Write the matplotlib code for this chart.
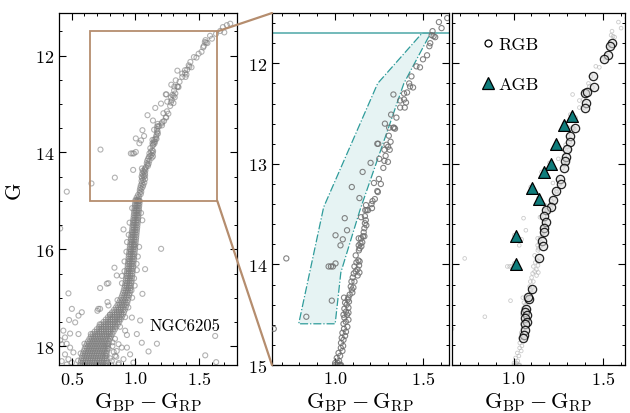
import matplotlib
matplotlib.use("Agg")
import matplotlib.pyplot as plt
from matplotlib.patches import Rectangle, Polygon, ConnectionPatch
from matplotlib.lines import Line2D
from matplotlib.ticker import MultipleLocator

plt.rcParams['font.family'] = 'serif'
plt.rcParams['font.serif'] = ['cmr10']
plt.rcParams['mathtext.fontset'] = 'cm'
plt.rcParams['axes.unicode_minus'] = False
plt.rcParams['axes.formatter.use_mathtext'] = True

# ---------------------------
# Data
# ---------------------------
# upper RGB / AGB stars (G < 15), colour BP-RP and G
upper_color = [1.588, 1.603, 1.635, 1.552, 1.547, 1.558, 1.567, 1.539, 1.534, 1.521,
               1.498, 1.461, 1.481, 1.433, 1.420, 1.425, 1.442, 1.408, 1.391, 1.331,
               1.369, 1.391, 1.402, 1.369, 1.395, 1.318, 1.348, 1.283, 1.307, 1.330,
               1.335, 1.340, 1.240, 1.245, 1.305, 1.315, 1.292, 1.301, 1.280, 1.310,
               1.287, 1.251, 1.280, 1.300, 1.202, 1.274, 1.157, 1.249, 1.221, 1.260,
               1.096, 1.240, 1.243, 1.139, 1.226, 1.213, 1.207, 1.176, 1.210, 1.180,
               1.172, 1.188, 1.148, 1.170, 1.056, 1.175, 1.170, 1.178, 1.167, 1.069,
               1.163, 1.159, 1.167, 1.135, 1.148, 1.004, 1.045, 1.032, 1.145, 1.155,
               1.135, 1.150, 1.140, 1.136, 0.726, 0.965, 0.978, 0.989, 1.004,
               1.118, 1.133, 1.140, 1.122, 1.137, 1.111, 1.128, 1.118, 1.139, 1.107,
               1.129, 1.101, 1.094, 1.111, 1.090, 1.105, 1.096, 1.099, 1.084, 1.077,
               1.073, 1.052, 1.080, 1.058, 1.067, 1.077, 1.054, 1.063, 1.077, 1.049,
               1.069, 1.054, 1.077, 1.062, 1.049, 1.071, 1.052, 1.063, 1.043, 1.058,
               1.039, 1.049, 1.035, 1.047, 1.034, 1.043, 1.021, 1.030, 1.011, 1.024,
               1.002, 1.017, 1.030, 0.983, 0.839, 0.655,
               1.720, 1.747, 1.689, 1.668, 1.700]
upper_g = [11.59, 11.65, 11.55, 11.68, 11.72, 11.73, 11.74, 11.80, 11.83, 11.92,
           11.96, 12.03, 12.04, 12.13, 12.20, 12.23, 12.24, 12.29, 12.30, 12.31,
           12.37, 12.36, 12.39, 12.44, 12.44, 12.51, 12.54, 12.60, 12.64, 12.64,
           12.64, 12.65, 12.80, 12.80, 12.72, 12.78, 12.81, 12.83, 12.86, 12.86,
           12.92, 12.95, 12.97, 12.98, 12.99, 13.04, 13.08, 13.15, 13.19, 13.20,
           13.23, 13.27, 13.28, 13.34, 13.35, 13.37, 13.40, 13.41, 13.44, 13.46,
           13.46, 13.46, 13.53, 13.52, 13.54, 13.56, 13.59, 13.61, 13.64, 13.66,
           13.68, 13.72, 13.72, 13.74, 13.74, 13.71, 13.75, 13.81, 13.79, 13.78,
           13.81, 13.82, 13.84, 13.86, 13.94, 14.02, 14.02, 14.02, 13.99,
           13.91, 13.96, 13.97, 13.98, 14.01, 14.02, 14.05, 14.07, 14.08, 14.09,
           14.11, 14.13, 14.17, 14.17, 14.22, 14.23, 14.25, 14.28, 14.30, 14.33,
           14.35, 14.33, 14.37, 14.38, 14.40, 14.43, 14.44, 14.47, 14.48, 14.50,
           14.50, 14.53, 14.55, 14.57, 14.59, 14.62, 14.64, 14.67, 14.68, 14.71,
           14.73, 14.75, 14.78, 14.81, 14.83, 14.86, 14.88, 14.91, 14.93, 14.96,
           14.98, 14.98, 15.00, 14.36, 14.52, 14.64,
           11.37, 11.34, 11.41, 11.49, 11.52]

# scattered stars below G = 15
field_color = [0.907, 1.203, 0.836, 1.077, 0.723, 0.776, 0.854, 1.056, 0.781, 0.789,
               0.702, 0.723, 0.474, 0.501, 0.579, 0.553, 0.479, 0.527, 0.434, 0.487,
               0.553, 0.447, 1.038, 0.973, 0.920, 0.934, 1.012, 1.051, 1.170, 1.104,
               1.550, 1.628, 1.636, 0.409, 0.421, 0.460, 0.487, 0.513, 0.447, 0.474,
               0.501, 0.421, 0.460, 0.868, 0.893, 0.854, 0.934, 0.959, 0.841, 0.907,
               0.815, 0.868, 0.985, 0.409, 0.461, 1.012, 0.990, 0.955, 1.045, 0.935,
               1.020, 0.915, 0.990, 0.895, 0.970, 0.788, 0.709,
               0.975, 1.055, 0.948, 1.030, 0.930, 1.010, 0.915, 0.995, 0.895, 0.975,
               0.860, 0.945, 0.800, 0.920, 0.720, 0.880, 0.650, 0.840, 0.600, 0.820,
               0.570, 0.800, 0.550, 0.810, 0.830, 0.850, 0.790, 0.820, 0.870]
field_g = [15.59, 15.99, 16.38, 16.41, 16.80, 16.71, 16.54, 16.92, 17.09, 17.16,
           17.27, 17.23, 16.91, 17.23, 17.30, 17.37, 17.46, 17.51, 17.68, 17.74,
           17.75, 17.82, 17.47, 17.41, 17.68, 17.77, 17.75, 17.93, 17.95, 18.11,
           18.19, 17.79, 18.33, 17.88, 17.96, 17.95, 18.03, 18.13, 18.17, 18.27,
           18.34, 18.31, 18.38, 17.96, 18.03, 18.10, 18.03, 18.17, 18.20, 18.27,
           18.31, 18.38, 18.34, 15.57, 14.81, 16.43, 15.91, 15.45, 15.25, 15.85,
           16.15, 16.25, 16.60, 16.55, 16.85, 16.70, 17.23,
           15.15, 15.40, 15.70, 15.95, 16.05, 16.30, 16.45, 16.75, 16.70, 17.00,
           17.05, 17.20, 17.35, 17.40, 17.55, 17.60, 17.75, 17.85, 17.95, 18.00,
           18.15, 18.25, 18.30, 18.38, 18.12, 18.22, 18.05, 17.92, 18.35]

# dense lower RGB / subgiant / turn-off band, one row per G value
band_g = [15.00, 15.05, 15.10, 15.15, 15.20, 15.25, 15.30, 15.35, 15.40, 15.45,
          15.50, 15.55, 15.60, 15.65, 15.70, 15.75, 15.80, 15.85, 15.90, 15.95,
          16.00, 16.05, 16.10, 16.15, 16.20, 16.25, 16.30, 16.35, 16.40, 16.45,
          16.50, 16.55, 16.60, 16.65, 16.70, 16.75, 16.80, 16.85, 16.90, 16.95,
          17.00, 17.05, 17.10, 17.15, 17.20, 17.25, 17.30, 17.35, 17.40, 17.45,
          17.50, 17.55, 17.60, 17.65, 17.70, 17.75, 17.80, 17.85, 17.90, 17.95,
          18.00, 18.05, 18.10, 18.15, 18.20, 18.25, 18.30, 18.35, 18.40, 18.45]
band_colors = [
    [1.002, 1.014, 1.026, 1.035], [0.998, 1.011, 1.022, 1.033],
    [0.997, 1.009, 1.020, 1.031], [0.994, 1.006, 1.018, 1.029],
    [0.992, 1.005, 1.016, 1.028], [0.990, 1.002, 1.014, 1.026],
    [0.988, 1.000, 1.012, 1.025], [0.986, 0.998, 1.010, 1.023],
    [0.983, 0.995, 1.008, 1.021], [0.981, 0.993, 1.006, 1.019],
    [0.979, 0.991, 1.004, 1.017], [0.977, 0.989, 1.002, 1.015],
    [0.975, 0.987, 1.000, 1.013], [0.972, 0.984, 0.997, 1.011],
    [0.970, 0.982, 0.995, 1.009], [0.967, 0.980, 0.993, 1.007],
    [0.965, 0.978, 0.991, 1.005], [0.962, 0.975, 0.988, 1.003],
    [0.960, 0.973, 0.986, 1.001], [0.957, 0.970, 0.984, 0.999],
    [0.955, 0.968, 0.982, 0.997], [0.953, 0.966, 0.980, 0.995],
    [0.950, 0.964, 0.978, 0.993], [0.948, 0.962, 0.976, 0.991],
    [0.946, 0.960, 0.974, 0.989], [0.944, 0.958, 0.972, 0.987],
    [0.942, 0.956, 0.970, 0.985], [0.940, 0.954, 0.968, 0.983],
    [0.938, 0.952, 0.966, 0.981], [0.935, 0.949, 0.964, 0.979],
    [0.933, 0.947, 0.962, 0.977], [0.930, 0.944, 0.960, 0.975],
    [0.928, 0.942, 0.957, 0.973], [0.925, 0.940, 0.955, 0.971],
    [0.922, 0.937, 0.953, 0.969], [0.918, 0.933, 0.950, 0.966],
    [0.914, 0.930, 0.947, 0.963], [0.909, 0.926, 0.943, 0.960],
    [0.903, 0.920, 0.938, 0.956], [0.897, 0.915, 0.934, 0.952],
    [0.890, 0.909, 0.928, 0.947], [0.881, 0.900, 0.920, 0.942],
    [0.872, 0.890, 0.908, 0.924, 0.937],
    [0.860, 0.878, 0.896, 0.914, 0.931],
    [0.848, 0.866, 0.884, 0.902, 0.925],
    [0.833, 0.851, 0.869, 0.887, 0.903, 0.918],
    [0.818, 0.836, 0.854, 0.872, 0.890, 0.911],
    [0.802, 0.820, 0.838, 0.856, 0.874, 0.890, 0.903],
    [0.785, 0.803, 0.821, 0.839, 0.857, 0.875, 0.894],
    [0.768, 0.786, 0.804, 0.822, 0.840, 0.858, 0.872, 0.884],
    [0.750, 0.768, 0.786, 0.804, 0.822, 0.840, 0.858, 0.874],
    [0.732, 0.750, 0.768, 0.786, 0.804, 0.822, 0.840, 0.863],
    [0.715, 0.733, 0.751, 0.769, 0.787, 0.805, 0.823, 0.838, 0.851],
    [0.697, 0.715, 0.733, 0.751, 0.769, 0.787, 0.805, 0.823, 0.840],
    [0.680, 0.698, 0.716, 0.734, 0.752, 0.770, 0.788, 0.806, 0.829],
    [0.665, 0.683, 0.701, 0.719, 0.737, 0.755, 0.773, 0.791, 0.805, 0.819],
    [0.650, 0.668, 0.686, 0.704, 0.722, 0.740, 0.758, 0.776, 0.794, 0.809],
    [0.639, 0.657, 0.675, 0.693, 0.711, 0.729, 0.747, 0.765, 0.783, 0.801],
    [0.628, 0.646, 0.664, 0.682, 0.700, 0.718, 0.736, 0.754, 0.772, 0.794],
    [0.619, 0.637, 0.655, 0.673, 0.691, 0.709, 0.727, 0.745, 0.763, 0.778, 0.789],
    [0.610, 0.628, 0.646, 0.664, 0.682, 0.700, 0.718, 0.736, 0.754, 0.770, 0.784],
    [0.602, 0.620, 0.638, 0.656, 0.674, 0.692, 0.710, 0.728, 0.746, 0.764, 0.780],
    [0.595, 0.613, 0.631, 0.649, 0.667, 0.685, 0.703, 0.721, 0.739, 0.757, 0.777],
    [0.589, 0.607, 0.625, 0.643, 0.661, 0.679, 0.697, 0.715, 0.733, 0.751, 0.766, 0.775],
    [0.583, 0.601, 0.619, 0.637, 0.655, 0.673, 0.691, 0.709, 0.727, 0.745, 0.762, 0.774],
    [0.578, 0.596, 0.614, 0.632, 0.650, 0.668, 0.686, 0.704, 0.722, 0.740, 0.758, 0.774],
    [0.573, 0.591, 0.609, 0.627, 0.645, 0.663, 0.681, 0.699, 0.717, 0.735, 0.753, 0.774],
    [0.569, 0.587, 0.605, 0.623, 0.641, 0.659, 0.677, 0.695, 0.713, 0.731, 0.749, 0.764, 0.775],
    [0.565, 0.583, 0.601, 0.619, 0.637, 0.655, 0.673, 0.691, 0.709, 0.727, 0.745, 0.762, 0.777],
    [0.565, 0.583, 0.601, 0.619, 0.637, 0.655, 0.673, 0.691, 0.709, 0.727, 0.745, 0.762, 0.777],
]

# AGB selection region (vertices)
poly_color = [1.541, 1.493, 1.242, 0.937, 0.796, 1.002, 1.034, 1.142, 1.390]
poly_g = [11.70, 11.70, 12.20, 13.43, 14.59, 14.59, 14.08, 13.46, 12.20]
g_cut = 11.70

# selected RGB and AGB stars
rgb_color = [1.550, 1.541, 1.531, 1.507, 1.443, 1.452, 1.400, 1.412, 1.409, 1.401,
             1.345, 1.315, 1.319, 1.300, 1.292, 1.290, 1.283, 1.258, 1.268, 1.239,
             1.220, 1.211, 1.183, 1.173, 1.183, 1.172, 1.173, 1.160, 1.164, 1.141,
             1.104, 1.089, 1.079, 1.070, 1.066, 1.074, 1.064, 1.075, 1.062, 1.066,
             1.059, 1.055]
rgb_g = [11.80, 11.83, 11.92, 11.96, 12.13, 12.24, 12.30, 12.29, 12.39, 12.44,
         12.64, 12.72, 12.78, 12.85, 12.93, 12.97, 13.04, 13.15, 13.20, 13.27,
         13.36, 13.43, 13.46, 13.52, 13.58, 13.64, 13.68, 13.77, 13.82, 13.94,
         14.24, 14.34, 14.32, 14.44, 14.47, 14.50, 14.53, 14.57, 14.59, 14.65,
         14.70, 14.73]
agb_color = [1.330, 1.285, 1.240, 1.209, 1.168, 1.102, 1.141, 1.011, 1.011]
agb_g = [12.52, 12.61, 12.80, 13.00, 13.08, 13.24, 13.35, 13.72, 14.00]

# all stars together
all_color = list(upper_color) + list(field_color)
all_g = list(upper_g) + list(field_g)
for g, row in zip(band_g, band_colors):
    all_color += row
    all_g += [g] * len(row)

box_col = '#b58d6e'
teal = '#0f7c7b'
xlab = r'$\mathrm{G_{BP}-G_{RP}}$'

fig = plt.figure(figsize=(6.3, 4.14), dpi=100)
ax1 = fig.add_axes([0.0937, 0.1159, 0.2825, 0.8502])
ax2 = fig.add_axes([0.4317, 0.1159, 0.2810, 0.8502])
ax3 = fig.add_axes([0.7175, 0.1159, 0.2746, 0.8502])

# ---------------------------
# Left: full CMD
# ---------------------------
ax1.scatter(all_color, all_g, s=13, facecolors='none', edgecolors='#7f7f7f',
            linewidths=0.8, alpha=0.6)
ax1.add_patch(Rectangle((0.645, 11.5), 1.0, 3.5, fill=False, edgecolor=box_col, lw=1.3))
ax1.text(1.387, 17.57, 'NGC6205', fontsize=12, ha='center', va='center')
ax1.set_xlim(0.4, 1.8)
ax1.set_ylim(18.39, 11.12)
ax1.xaxis.set_major_locator(MultipleLocator(0.5))
ax1.xaxis.set_minor_locator(MultipleLocator(0.1))
ax1.yaxis.set_major_locator(MultipleLocator(2))
ax1.yaxis.set_minor_locator(MultipleLocator(0.5))
ax1.set_xlabel(xlab, fontsize=16, labelpad=2)
ax1.set_ylabel('G', fontsize=16, labelpad=8)

# ---------------------------
# Middle: zoom on upper RGB with AGB region
# ---------------------------
ax2.add_patch(Polygon(list(zip(poly_color, poly_g)), closed=True, facecolor='#e6f3f3',
                      edgecolor='#2f9c9b', ls='-.', lw=0.9, zorder=1))
ax2.axhline(g_cut, color='#5aaeae', lw=1.2, zorder=2)
ax2.scatter(all_color, all_g, s=14, facecolors='none', edgecolors='#6e6e6e',
            linewidths=0.8, alpha=0.85, zorder=3)
ax2.set_xlim(0.645, 1.645)
ax2.set_ylim(15.0, 11.5)
ax2.yaxis.set_major_locator(MultipleLocator(1))
ax2.yaxis.set_minor_locator(MultipleLocator(0.2))
ax2.set_xlabel(xlab, fontsize=16, labelpad=2)

# ---------------------------
# Right: selected RGB / AGB
# ---------------------------
ax3.scatter(all_color, all_g, s=7, facecolors='none', edgecolors='#b5b5b5',
            linewidths=0.6, alpha=0.7, zorder=1)
ax3.scatter(rgb_color, rgb_g, s=36, facecolors=(0.85, 0.85, 0.85, 0.55),
            edgecolors=(0, 0, 0, 0.85), linewidths=0.9, zorder=2)
ax3.scatter(agb_color, agb_g, s=72, marker='^', facecolors=teal,
            edgecolors='k', linewidths=0.9, zorder=3)
ax3.set_xlim(0.655, 1.625)
ax3.set_ylim(15.0, 11.5)
ax3.yaxis.set_major_locator(MultipleLocator(1))
ax3.yaxis.set_minor_locator(MultipleLocator(0.2))
ax3.set_xlabel(xlab, fontsize=16, labelpad=2)
ax3.tick_params(labelleft=False)

handles = [Line2D([], [], ls='none', marker='o', markersize=5, mfc='white', mec='k', mew=0.9),
           Line2D([], [], ls='none', marker='^', markersize=9, mfc=teal, mec='k', mew=0.9)]
ax3.legend(handles, ['RGB', 'AGB'], loc='upper left', bbox_to_anchor=(0.08, 0.965),
           frameon=False, fontsize=13, labelspacing=1.35, handletextpad=0.0,
           handlelength=1.2, borderaxespad=0.2)

for ax in (ax2, ax3):
    ax.xaxis.set_major_locator(MultipleLocator(0.5))
    ax.xaxis.set_minor_locator(MultipleLocator(0.1))

for ax in (ax1, ax2, ax3):
    ax.tick_params(which='both', direction='in', top=True, right=True, labelsize=13)
    ax.tick_params(which='major', length=5, width=0.8)
    ax.tick_params(which='minor', length=2.5, width=0.7)
    for sp in ax.spines.values():
        sp.set_linewidth(0.9)

# zoom connectors
for yl, yb in ((11.5, 1.0), (15.0, 0.0)):
    con = ConnectionPatch(xyA=(1.645, yl), coordsA='data', axesA=ax1,
                          xyB=(0.0, yb), coordsB='axes fraction', axesB=ax2,
                          color=box_col, lw=1.6)
    fig.add_artist(con)

fig.savefig('out.png', dpi=100)
